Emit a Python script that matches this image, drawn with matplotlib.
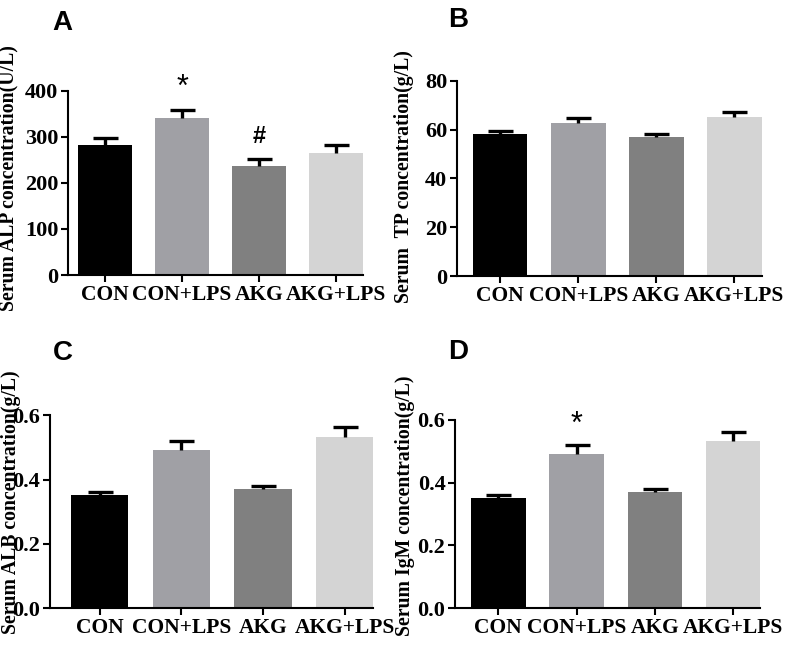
import matplotlib.pyplot as plt
import numpy as np

groups = ["CON", "CON+LPS", "AKG", "AKG+LPS"]
colors = ["#000000", "#a0a0a5", "#808080", "#d4d4d4"]

alp_mean = [282, 342, 236, 266]
alp_err = [15, 16, 15, 16]
tp_mean = [58.2, 62.6, 56.9, 65.4]
tp_err = [1.3, 2.1, 1.4, 2.0]
alb_mean = [0.352, 0.493, 0.371, 0.533]
alb_err = [0.009, 0.028, 0.010, 0.029]
igm_mean = [0.350, 0.492, 0.371, 0.531]
igm_err = [0.010, 0.028, 0.009, 0.031]

serif = "Liberation Serif"
sans = "Liberation Sans"

fig = plt.figure(figsize=(8, 6.58), dpi=100)


def panel(rect, means, errs, ylim, yticks, fmt, ylabel, letter, label_xy, letter_xy, xlim):
    ax = fig.add_axes(rect)
    X = np.arange(len(groups))
    ax.bar(X, means, width=0.7, color=colors, zorder=2)
    eb = ax.errorbar(X, means, yerr=[np.zeros(len(errs)), errs], fmt="none",
                     ecolor="black", elinewidth=2.4, capsize=9, capthick=2.4, zorder=3)
    # only the upper cap, like the original figure
    eb[1][0].set_visible(False)
    ax.set_xlim(*xlim)
    ax.set_ylim(*ylim)
    ax.set_yticks(yticks)
    ax.set_yticklabels([fmt.format(v) for v in yticks], fontfamily=serif,
                       fontweight="bold", fontsize=16)
    ax.set_xticks(X)
    ax.set_xticklabels(groups, fontfamily=serif, fontweight="bold", fontsize=15.5)
    ax.spines["top"].set_visible(False)
    ax.spines["right"].set_visible(False)
    ax.spines["left"].set_linewidth(1.5)
    ax.spines["bottom"].set_linewidth(1.5)
    ax.tick_params(width=1.5, length=5, pad=2)
    ax.set_ylabel(ylabel, fontfamily=serif, fontweight="bold", fontsize=14.2)
    ax.yaxis.set_label_coords(label_xy[0], label_xy[1], transform=fig.transFigure)
    fig.text(letter_xy[0], letter_xy[1], letter, fontfamily=sans, fontweight="bold",
             fontsize=20, ha="left", va="center")
    return ax


ax1 = panel([0.085, 0.582, 0.369, 0.280], alp_mean, alp_err, (0, 400),
            [0, 100, 200, 300, 400], "{:.0f}", "Serum ALP concentration(U/L)", "A",
            (0.023, 1 - 178 / 658), (0.066, 1 - 23 / 658), (-0.48, 3.35))
ax1.text(1, 406, "*", ha="center", va="center", fontsize=22, fontfamily=sans, clip_on=False)
ax1.text(2, 300, "#", ha="center", va="center", fontsize=17, fontfamily=sans, fontweight="bold")

ax2 = panel([0.571, 0.5805, 0.382, 0.2965], tp_mean, tp_err, (0, 80),
            [0, 20, 40, 60, 80], "{:.0f}", "Serum  TP concentration(g/L)", "B",
            (0.518, 1 - 177 / 658), (0.56, 1 - 20 / 658), (-0.555, 3.36))

ax3 = panel([0.0625, 0.0755, 0.404, 0.2935], alb_mean, alb_err, (0, 0.6),
            [0.0, 0.2, 0.4, 0.6], "{:.1f}", "Serum ALB concentration(g/L)", "C",
            (0.026, 1 - 502 / 658), (0.066, 1 - 353 / 658), (-0.61, 3.35))

ax4 = panel([0.569, 0.0755, 0.381, 0.2865], igm_mean, igm_err, (0, 0.6),
            [0.0, 0.2, 0.4, 0.6], "{:.1f}", "Serum IgM concentration(g/L)", "D",
            (0.519, 1 - 506 / 658), (0.56, 1 - 352 / 658), (-0.55, 3.34))
ax4.text(1, 0.584, "*", ha="center", va="center", fontsize=22, fontfamily=sans)

plt.savefig("out.png", dpi=100)
